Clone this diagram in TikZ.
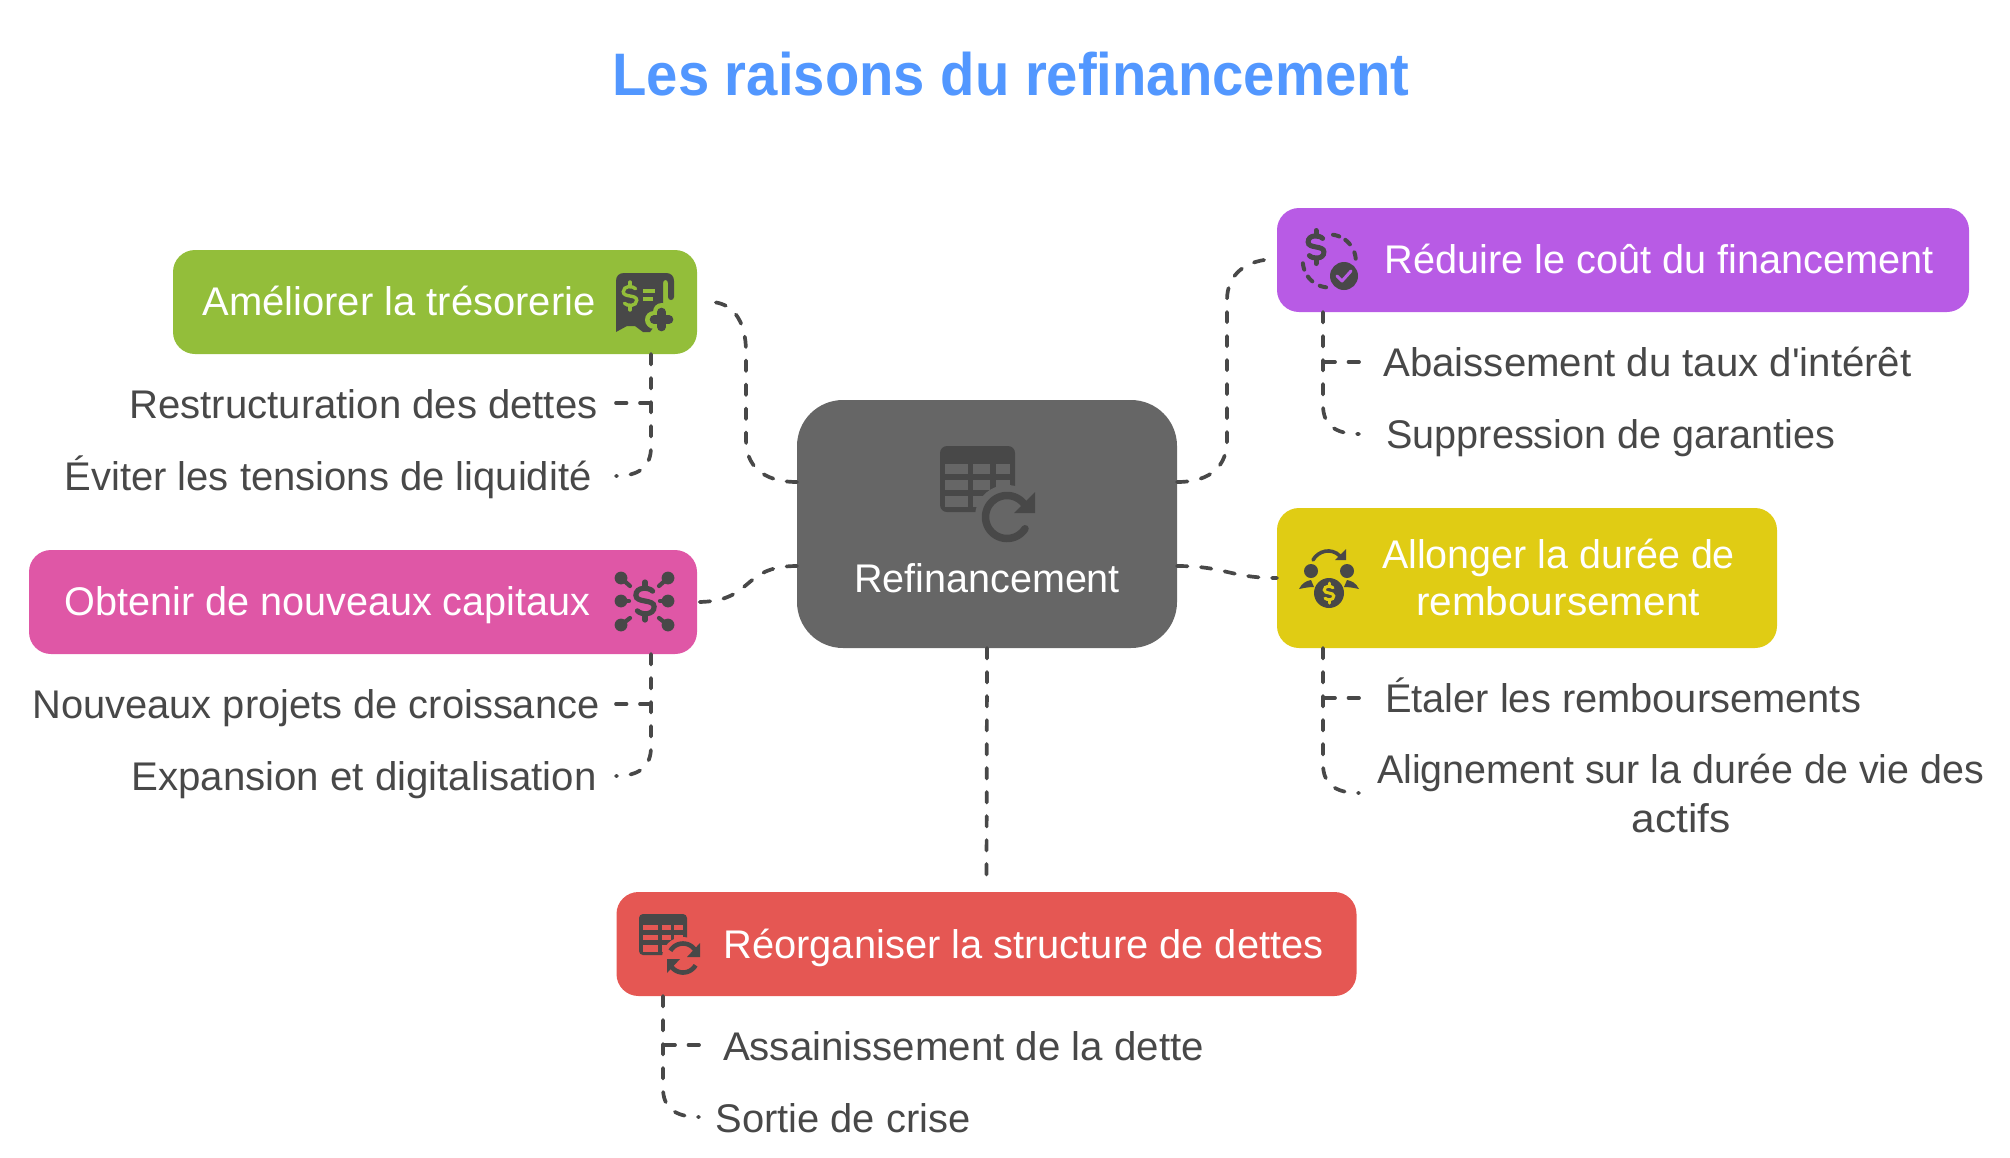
\documentclass[tikz,border=0pt]{standalone}
\usepackage{fontspec}
\usepackage{graphicx}
\setmainfont{Liberation Sans}[Ligatures=TeXOff]
\definecolor{ink}{HTML}{484848}
\definecolor{cgreen}{HTML}{93BE3A}
\definecolor{cpurple}{HTML}{B85BE5}
\definecolor{cyellow}{HTML}{E0CC14}
\definecolor{cpink}{HTML}{DF57A6}
\definecolor{cred}{HTML}{E55753}
\definecolor{cgrey}{HTML}{666666}
\definecolor{ctitle}{HTML}{5297FF}
% #1 = width of the text in px, #2 = text
\newcommand\fitw[2]{\resizebox{#1pt}{\height}{#2}}
% #1,#2 = position, #3 = height, #4 = line width, #5 = colour
\newcommand\dollarglyph[5]{%
  \begin{scope}[shift={(#1,#2)},x=#3pt,y=#3pt,line width=#4pt,draw=#5,line cap=round,fill=none]
    \draw (0.2,0.26) .. controls (0.1,0.37) and (-0.24,0.38) .. (-0.24,0.15)
      .. controls (-0.24,-0.06) and (0.24,0.06) .. (0.24,-0.15)
      .. controls (0.24,-0.38) and (-0.1,-0.37) .. (-0.2,-0.26);
    \draw (0,0.5) -- (0,0.36);
    \draw (0,-0.5) -- (0,-0.36);
  \end{scope}}
\tikzset{
  x=1pt,y=-1pt,
  box/.style={rounded corners=22pt,inner sep=0pt,outer sep=0pt},
  hub/.style={rounded corners=46pt,inner sep=0pt,outer sep=0pt,fill=cgrey},
  link/.style={draw=ink,line width=3.7pt,line cap=round,dash pattern=on 10.5pt off 13.5pt},
  boxtext/.style={text=white,anchor=base,inner sep=0pt,align=center,font=\fontsize{40}{48}\selectfont},
  leaf/.style={text=ink,anchor=base,inner sep=0pt,align=center,font=\fontsize{40}{48}\selectfont},
  titletext/.style={text=ctitle,anchor=base,inner sep=0pt,font=\fontsize{60}{70}\selectfont\bfseries},
  glyphline/.style={draw=ink,line cap=round},
}
\begin{document}
\begin{tikzpicture}
\useasboundingbox (0,0) rectangle (2010,1157);
\node[titletext] (title) at (1011,95) {\fitw{797}{Les raisons du refinancement}};

% boxes
\node[hub,minimum width=380pt,minimum height=248pt] (hubbox) at (987,524) {};
\node[box,fill=cgreen,minimum width=524pt,minimum height=104pt] (green) at (435,302) {};
\node[box,fill=cpink,minimum width=668pt,minimum height=104pt] (pink) at (363,602) {};
\node[box,fill=cpurple,minimum width=692pt,minimum height=104pt] (purple) at (1623,260) {};
\node[box,fill=cyellow,minimum width=500pt,minimum height=140pt] (yellow) at (1527,578) {};
\node[box,fill=cred,minimum width=740pt,minimum height=104pt] (red) at (986.5,944) {};

% box texts
\node[boxtext] (t0) at (987,592) {\fitw{266}{Refinancement}};
\node[boxtext] (t1) at (399,315) {\fitw{393}{Améliorer la trésorerie}};
\node[boxtext] (t2) at (327.5,615) {\fitw{526}{Obtenir de nouveaux capitaux}};
\node[boxtext] (t3) at (1659,273) {\fitw{549}{Réduire le coût du financement}};
\node[boxtext] (t4a) at (1558.5,568) {\fitw{353}{Allonger la durée de}};
\node[boxtext] (t4b) at (1558,615) {\fitw{284}{remboursement}};
\node[boxtext] (t5) at (1023.5,958) {\fitw{600}{Réorganiser la structure de dettes}};

% leaves
\node[leaf] (l1) at (363.5,418) {\fitw{468}{Restructuration des dettes}};
\node[leaf] (l2) at (328,490) {\fitw{527}{Éviter les tensions de liquidité}};
\node[leaf] (l3) at (316,718) {\fitw{567}{Nouveaux projets de croissance}};
\node[leaf] (l4) at (364,790) {\fitw{465}{Expansion et digitalisation}};
\node[leaf] (l5) at (1647.5,376) {\fitw{528}{Abaissement du taux d'intérêt}};
\node[leaf] (l6) at (1611,448) {\fitw{449}{Suppression de garanties}};
\node[leaf] (l7) at (1623,712) {\fitw{476}{Étaler les remboursements}};
\node[leaf] (l8a) at (1680.5,783) {\fitw{607}{Alignement sur la durée de vie des}};
\node[leaf] (l8b) at (1681,832) {\fitw{99}{actifs}};
\node[leaf] (l9) at (963.5,1060) {\fitw{481}{Assainissement de la dette}};
\node[leaf] (l10) at (843,1132) {\fitw{255}{Sortie de crise}};

% hub connectors
\draw[link] ([yshift=42pt]hubbox.west) .. controls (762,482) and (746,465) .. (746,440) -- (746,352) .. controls (746,320) and (732,302) .. ([xshift=13pt]green.east);
\draw[link] ([yshift=-42pt]hubbox.west) .. controls (740,566) and (755,602) .. (pink.east);
\draw[link] ([yshift=42pt]hubbox.east) .. controls (1212,482) and (1227,465) .. (1227,440) -- (1227,300) .. controls (1227,275) and (1245,259) .. ([yshift=1pt]purple.west);
\draw[link] ([yshift=-42pt]hubbox.east) .. controls (1225,566) and (1230,578) .. (yellow.west);
\draw[link] (hubbox.south) -- ([yshift=6pt]red.north);

% branch connectors
\coordinate (gb) at (651,354); \coordinate (gt) at (616,403); \coordinate (ge) at (616,476);
\draw[link] (gb) -- (651,447) .. controls (651,466) and (640,476) .. (ge);
\draw[link] (gt) -- (651,403);
\coordinate (pb) at (651,654); \coordinate (pt) at (616,704); \coordinate (pe) at (616,776);
\draw[link] (pb) -- (651,747) .. controls (651,766) and (640,776) .. (pe);
\draw[link] (pt) -- (651,704);
\coordinate (ub) at (1323,312); \coordinate (ut) at (1359,362); \coordinate (ue) at (1359,434);
\draw[link] (ub) -- (1323,405) .. controls (1323,424) and (1334,434) .. (ue);
\draw[link] (ut) -- (1323,362);
\coordinate (yb) at (1323,648); \coordinate (yt) at (1359,698); \coordinate (ye) at (1359,793);
\draw[link] (yb) -- (1323,764) .. controls (1323,783) and (1334,793) .. (ye);
\draw[link] (yt) -- (1323,698);
\coordinate (rb) at (663,996); \coordinate (rt) at (699,1045); \coordinate (re) at (699,1117);
\draw[link] (rb) -- (663,1088) .. controls (663,1107) and (674,1117) .. (re);
\draw[link] (rt) -- (663,1045);

% hub icon
\fill[ink,rounded corners=7pt] (940,446) rectangle (1015,512);
\foreach \ya/\yb in {464/474,480/490,496/507}{
  \foreach \xa/\xb in {945/968,973/990,996/1010}{
    \fill[cgrey] (\xa,\ya) rectangle (\xb,\yb);
  }
}
\fill[cgrey] (1007,517) circle[radius=32];
\draw[ink,line width=7.5pt,line cap=round] plot[domain=40:327,samples=40] ({1007+21.5*cos(\x)},{517-21.5*sin(\x)});
\fill[ink] (1035,492) -- (1035,513) -- (1014,513) -- cycle;

% green icon
\fill[ink] (616,332) -- (616,281) .. controls (616,276) and (619,273) .. (624,273) -- (666,273) .. controls (671,273) and (674,276) .. (674,281) -- (674,297) .. controls (674,301) and (668,301) .. (668,297) -- (668,283) .. controls (668,279) and (663,279) .. (663,283) -- (663,315) -- (650,332) -- (643,332) -- (635,326) -- (627,326) -- cycle;
\draw[cgreen,line width=18pt,line cap=round] (654,319.5) -- (669,319.5) (661.5,312) -- (661.5,327);
\draw[ink,line width=8.6pt,line cap=round] (654,319.5) -- (669,319.5) (661.5,312) -- (661.5,327);
\dollarglyph{630}{296}{28}{3.4}{cgreen}
\draw[cgreen,line width=3.6pt] (643,291) -- (655,291) (643,299) -- (653,299);

% pink icon
\dollarglyph{645}{601}{38}{5.2}{ink}
\foreach \ax/\ay/\bx/\by in {621/578/630/586,668/578/659/586,621/601/629/601,668/601/660/601,621/625/630/618,668/625/659/618}{
  \fill[ink] (\ax,\ay) circle[radius=6.4];
  \draw[glyphline,line width=4.2pt] (\ax,\ay) -- (\bx,\by);
}

% purple icon
\dollarglyph{1316}{247}{33}{5}{ink}
\foreach \a in {75,46,12,192,223,256}{
  \draw[glyphline,line width=4pt] plot[domain=\a-7:\a+7,samples=6] ({1329.3+26.5*cos(\x)},{261-26.5*sin(\x)});
}
\fill[ink] (1344,276) circle[radius=14];
\draw[cpurple,line width=3pt,line cap=round,line join=round] (1337,276) -- (1342,281) -- (1351,271);

% yellow icon
\fill[ink] (1311,571) circle[radius=7] (1347,571) circle[radius=7];
\fill[ink] (1329,593) circle[radius=15];
\dollarglyph{1329}{593}{20}{3}{cyellow}
\fill[ink] (1299,589) .. controls (1302,583) and (1306,581) .. (1311,580) -- (1314,587) .. controls (1308,587) and (1304,588) .. cycle;
\fill[ink] (1359,589) .. controls (1356,583) and (1352,581) .. (1347,580) -- (1344,587) .. controls (1350,587) and (1354,588) .. cycle;
\draw[glyphline,line width=3.6pt] (1313,560) .. controls (1318,551) and (1331,547) .. (1340,556);
\fill[ink] (1346,549) -- (1346,560) -- (1335,560) -- cycle;

% red icon
\fill[ink,rounded corners=4pt] (639,914) rectangle (687,955);
\foreach \ya/\yb in {925/930,935/940,945/952}{
  \foreach \xa/\xb in {643/658,662/671,674/683}{
    \fill[cred] (\xa,\ya) rectangle (\xb,\yb);
  }
}
\fill[cred] (683,958) circle[radius=21];
\draw[ink,line width=4.6pt] plot[domain=25:150,samples=20] ({683+14.5*cos(\x)},{958-14.5*sin(\x)});
\draw[ink,line width=4.6pt] plot[domain=205:330,samples=20] ({683+14.5*cos(\x)},{958-14.5*sin(\x)});
\fill[ink] (700,943) -- (700,957) -- (687,957) -- cycle;
\fill[ink] (667,973) -- (667,959) -- (680,959) -- cycle;
\end{tikzpicture}
\end{document}
